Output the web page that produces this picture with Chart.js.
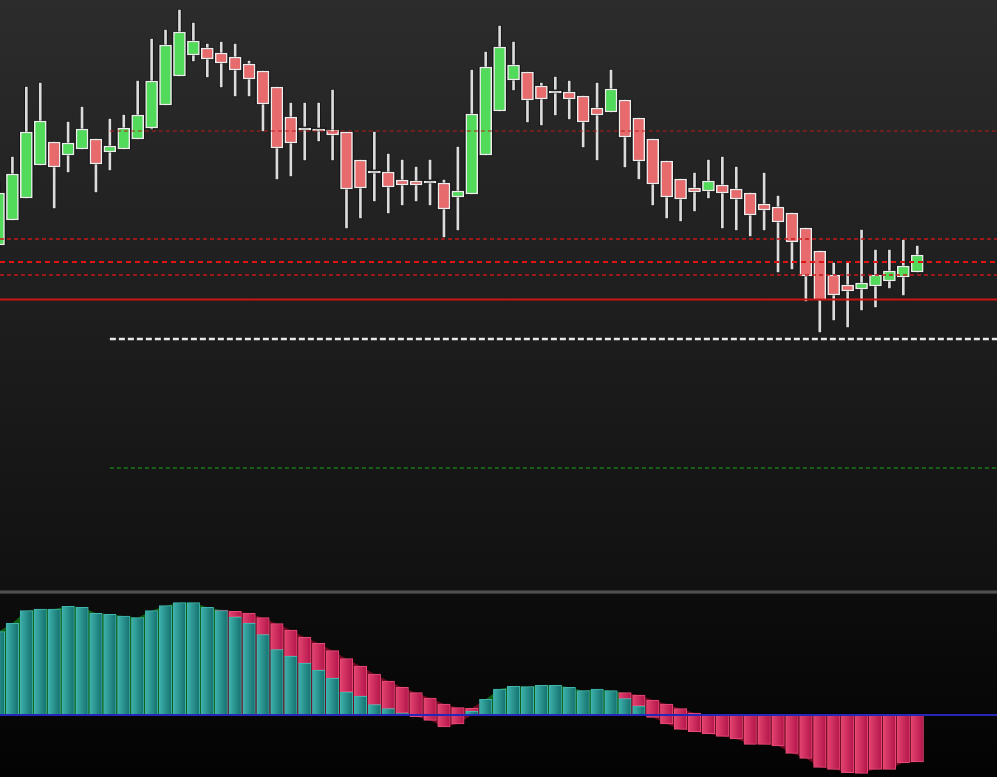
<!DOCTYPE html>
<html>
<head>
<meta charset="utf-8">
<script src="https://cdn.jsdelivr.net/npm/chart.js@4.4.0/dist/chart.umd.min.js"></script>
<style>
html,body{margin:0;padding:0;background:#000;overflow:hidden;width:997px;height:777px}
#top{position:absolute;left:0;top:0;width:997px;height:590px;background:linear-gradient(#2c2c2c,#111111)}
#sep{position:absolute;left:0;top:590px;width:997px;height:4px;background:linear-gradient(#262626,#5c5c5c 50%,#2a2a2a)}
#bot{position:absolute;left:0;top:594px;width:997px;height:183px;background:linear-gradient(#0d0d0d,#030303)}
canvas{display:block}
</style>
</head>
<body>
<div id="top"><canvas id="price" width="997" height="590"></canvas></div>
<div id="sep"></div>
<div id="bot"><canvas id="osc" width="997" height="183"></canvas></div>
<script>
// candles
const opens  = [1975.5,1978.0,1980.2,1983.5,1985.8,1984.5,1985.1,1986.1,1984.8,1985.1,1986.1,1987.2,1989.5,1992.4,1994.5,1995.2,1994.7,1994.3,1993.6,1992.9,
                1991.3,1988.3,1987.0,1986.9,1987.0,1986.8,1984.0,1982.7,1982.8,1982.0,1981.9,1981.7,1981.7,1980.3,1980.6,1984.5,1988.9,1992.0,1992.8,1991.4,
                1990.7,1990.8,1990.4,1989.2,1988.8,1990.0,1988.2,1986.1,1983.9,1982.1,1981.2,1980.9,1981.5,1981.1,1980.7,1979.6,1979.3,1978.7,1977.2,1974.9,
                1972.5,1971.5,1971.1,1971.4,1971.9,1972.3,1972.8];
const closes = [1980.7,1982.6,1986.8,1987.9,1983.3,1985.7,1987.1,1983.6,1985.4,1987.2,1988.5,1991.9,1995.5,1996.8,1995.9,1994.1,1993.7,1993.0,1992.1,1989.6,
                1985.2,1985.7,1987.0,1986.9,1986.5,1981.1,1981.2,1982.7,1981.3,1981.5,1981.5,1981.7,1979.1,1980.9,1988.6,1993.3,1995.3,1993.5,1990.0,1990.1,
                1990.7,1990.1,1987.8,1988.5,1991.1,1986.3,1983.9,1981.6,1980.3,1980.1,1980.8,1981.9,1980.7,1980.1,1978.5,1979.0,1977.8,1975.8,1972.4,1970.0,
                1970.5,1970.9,1971.7,1972.5,1972.9,1973.4,1974.5];
const highs  = [1981.8,1984.4,1991.4,1991.8,1985.9,1987.9,1989.4,1986.2,1988.2,1988.6,1992.0,1996.2,1997.1,1999.1,1997.8,1995.7,1995.9,1995.7,1994.0,1993.0,
                1991.4,1989.8,1989.8,1989.8,1991.1,1986.9,1984.1,1986.9,1984.7,1984.1,1983.4,1984.1,1982.1,1985.4,1993.1,1994.9,1997.5,1995.9,1992.9,1991.8,
                1992.4,1992.0,1990.5,1991.8,1993.1,1990.1,1988.3,1986.2,1984.0,1982.2,1982.8,1984.1,1984.4,1983.4,1980.8,1982.8,1980.5,1978.8,1977.3,1975.0,
                1973.8,1973.8,1977.1,1975.1,1975.1,1976.1,1975.5];
const lows   = [1975.2,1977.9,1980.1,1983.4,1979.1,1982.7,1985.0,1980.7,1982.9,1985.0,1986.0,1987.0,1989.4,1992.3,1993.8,1992.2,1991.2,1990.3,1990.3,1986.8,
                1982.0,1982.3,1983.9,1985.8,1983.9,1977.1,1978.1,1979.8,1978.6,1979.4,1979.8,1979.4,1976.2,1976.9,1980.5,1984.4,1988.8,1990.9,1987.7,1987.4,
                1988.4,1988.0,1985.2,1983.9,1988.7,1983.2,1982.0,1979.4,1978.1,1977.8,1978.8,1980.1,1977.1,1976.9,1976.3,1976.9,1972.7,1973.0,1969.8,1966.7,
                1967.9,1967.2,1968.9,1969.2,1971.1,1970.4,1972.7];

// horizontal levels
const levelPrices = [1986.9, 1976.1, 1973.8, 1972.5, 1970.05, 1966.1, 1953.2];
const levelStart  = [8, null, null, null, null, 8, 8];

// oscillator bars
const tealVals = [8.33,9.17,10.43,10.6,10.6,10.87,10.77,10.17,10.07,9.9,9.73,10.43,10.93,11.23,11.23,10.77,10.43,9.8,9.17,8.03,
                  6.53,5.87,5.17,4.47,3.67,2.3,1.87,1.03,0.63,0.2,null,null,null,null,0.37,1.57,2.6,2.87,2.83,2.97,
                  2.97,2.77,2.43,2.6,2.43,1.63,0.9,null,null,null,null,null,null,null,null,null,null,null,null,null,
                  null,null,null,null,null,null,null];
const redHigh  = [null,null,null,null,null,null,null,null,null,null,null,null,null,null,null,null,10.5,10.37,10.17,9.73,
                  9.13,8.5,7.77,7.17,6.43,5.63,4.9,4.1,3.4,2.77,2.23,1.7,1.1,0.73,0.67,null,null,null,null,null,
                  null,null,null,null,null,2.23,2.0,1.5,1.1,0.63,0.2,0,0,0,0,0,0,0,0,0,
                  0,0,0,0,0,0,0];
const redLow   = [null,null,null,null,null,null,null,null,null,null,null,null,null,null,null,null,10.43,9.8,9.17,8.03,
                  6.53,5.87,5.17,4.47,3.67,2.3,1.87,1.03,0.63,0.2,-0.17,-0.53,-1.2,-0.9,0.37,null,null,null,null,null,
                  null,null,null,null,null,1.63,0.9,-0.23,-0.9,-1.43,-1.67,-1.87,-2.13,-2.4,-2.93,-2.93,-3.1,-3.83,-4.33,-5.23,
                  -5.43,-5.77,-5.83,-5.43,-5.43,-4.77,-4.7];

const X_MIN = 0.108, X_MAX = 71.73;
const idx = opens.map((v, i) => i);

function bodyColor(i){
  if (opens[i] === closes[i]) return '#f2f2f2';
  return closes[i] > opens[i] ? '#52da5a' : '#e76b6d';
}

// horizontal shading per bar (falls back to flat colour until the scale is laid out)
function barGrad(left, right, flat){
  return (c) => {
    const chart = c.chart;
    const xs = chart.scales && chart.scales.x;
    if (!xs || !c.parsed || c.parsed.x === undefined) return flat;
    const px = xs.getPixelForValue(c.parsed.x);
    if (!Number.isFinite(px)) return flat;
    const g = chart.ctx.createLinearGradient(px - 6, 0, px + 6, 0);
    g.addColorStop(0, left);
    g.addColorStop(1, right);
    return g;
  };
}

const levelStyles = [
  {color:'#b81c1c', width:1,   dash:[4,3]},
  {color:'#c81818', width:1.5, dash:[4,3]},
  {color:'#e01515', width:2,   dash:[5,4]},
  {color:'#c81818', width:1.5, dash:[4,3]},
  {color:'#cc1414', width:2,   dash:[]},
  {color:'#e8e8e8', width:2.5, dash:[6,3]},
  {color:'#1b7a1b', width:1.5, dash:[4,3]}
];

const levelSets = levelPrices.map((p, k) => ({
  type:'line',
  data:[{x: levelStart[k] === null ? X_MIN : levelStart[k], y:p}, {x:X_MAX, y:p}],
  borderColor: levelStyles[k].color,
  borderWidth: levelStyles[k].width,
  borderDash: levelStyles[k].dash,
  pointRadius:0,
  order:-1
}));

new Chart(document.getElementById('price'), {
  type:'bar',
  data:{
    datasets:[
      {
        data: idx.map(i => ({x:i, y:[opens[i], closes[i]]})),
        backgroundColor: idx.map(bodyColor),
        borderColor:'#eeeeee',
        borderWidth:1.5,
        borderSkipped:false,
        barThickness:12,
        minBarLength:2,
        grouped:false,
        order:0
      },
      {
        data: idx.map(i => ({x:i, y:[opens[i], closes[i]]})),
        backgroundColor:'#141414',
        barThickness:14,
        minBarLength:3,
        grouped:false,
        order:1
      },
      {
        data: idx.map(i => ({x:i, y:[lows[i], highs[i]]})),
        backgroundColor:'#dcdcdc',
        borderColor:'#161616',
        borderWidth:1,
        borderSkipped:false,
        barThickness:4,
        grouped:false,
        order:2
      },
      ...levelSets
    ]
  },
  options:{
    responsive:false,
    animation:false,
    devicePixelRatio:1,
    layout:{padding:0},
    plugins:{legend:{display:false}, tooltip:{enabled:false}},
    scales:{
      x:{type:'linear', min:X_MIN, max:X_MAX, offset:false, display:false},
      y:{min:1941, max:2000, display:false}
    }
  }
});

// outer envelope of the histogram, shaded behind the bars
const upperEdge = idx.map(i => Math.max(tealVals[i] ?? 0, redHigh[i] ?? 0));
const upperRed  = idx.map(i => redHigh[i] !== null && redHigh[i] > (tealVals[i] ?? 0));
const lowerEdge = idx.map(i => Math.min(redLow[i] ?? 0, 0));

new Chart(document.getElementById('osc'), {
  type:'bar',
  data:{
    datasets:[
      {
        type:'line',
        data:[{x:X_MIN, y:0}, {x:X_MAX, y:0}],
        borderColor:'#2626b8',
        borderWidth:2,
        pointRadius:0,
        order:-1
      },
      {
        data: idx.filter(i => tealVals[i] !== null).map(i => ({x:i, y:[0, tealVals[i]]})),
        backgroundColor: barGrad('#3db0ab', '#15716e', '#26958f'),
        borderColor:'#3fb5ae',
        borderWidth:1,
        borderSkipped:false,
        barThickness:12.5,
        grouped:false,
        order:1
      },
      {
        data: idx.filter(i => redHigh[i] !== null).map(i => ({x:i, y:[redLow[i], redHigh[i]]})),
        backgroundColor: barGrad('#e2426f', '#b3164a', '#d02a5a'),
        borderColor:'#e84a78',
        borderWidth:1,
        borderSkipped:false,
        barThickness:12.5,
        grouped:false,
        order:2
      },
      {
        type:'line',
        data: idx.map(i => ({x:i, y:upperEdge[i]})),
        borderWidth:0,
        pointRadius:0,
        fill:'origin',
        backgroundColor:'#0f5e12',
        segment:{backgroundColor: c => upperRed[c.p0DataIndex] ? '#6a0b20' : '#0f5e12'},
        order:3
      },
      {
        type:'line',
        data: idx.map(i => ({x:i, y:lowerEdge[i]})),
        borderWidth:0,
        pointRadius:0,
        fill:'origin',
        backgroundColor:'#6a0b20',
        order:3
      }
    ]
  },
  options:{
    responsive:false,
    animation:false,
    devicePixelRatio:1,
    layout:{padding:0},
    plugins:{legend:{display:false}, tooltip:{enabled:false}},
    scales:{
      x:{type:'linear', min:X_MIN, max:X_MAX, offset:false, display:false},
      y:{min:-6.2, max:12.1, display:false}
    }
  }
});
</script>
</body>
</html>
